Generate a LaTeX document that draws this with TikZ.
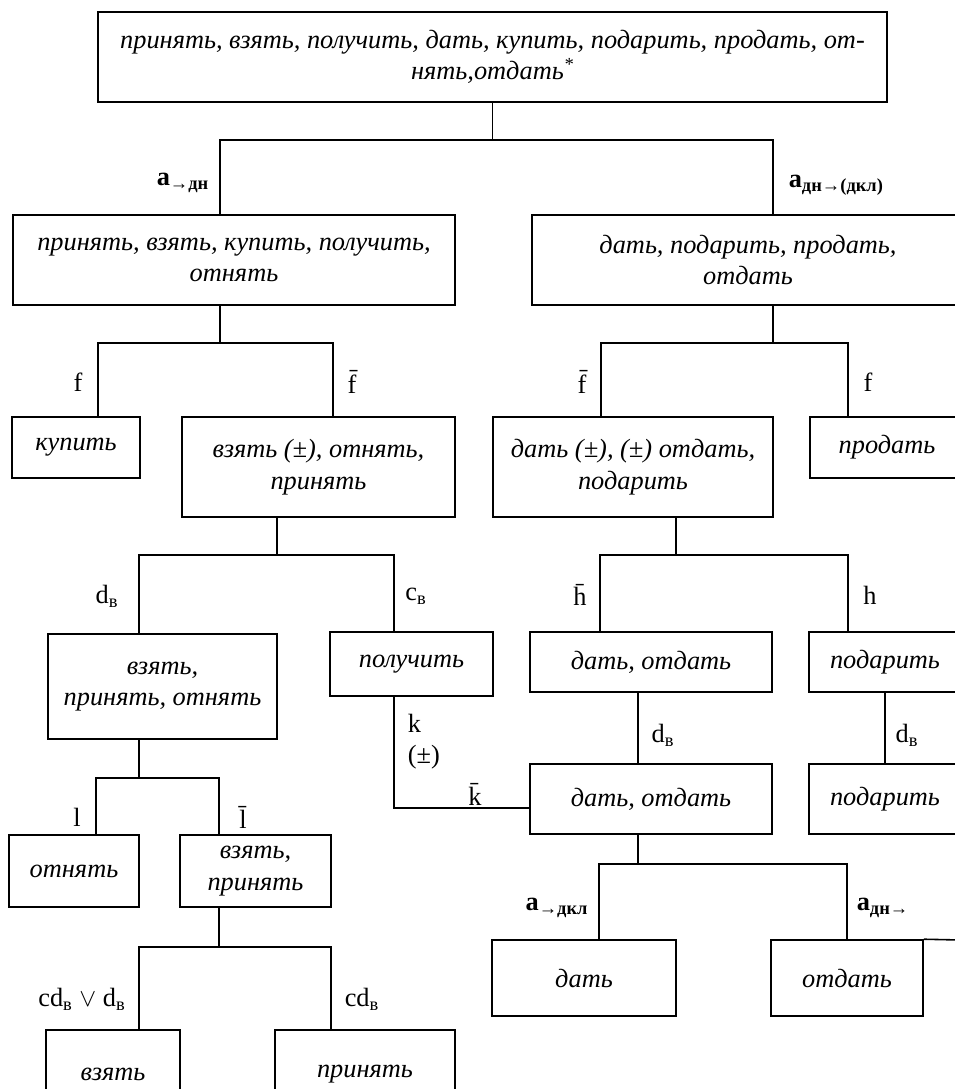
\documentclass[tikz,border=0pt]{standalone}
\usepackage{fontspec}
\setmainfont{Liberation Serif}
\begin{document}
\begin{tikzpicture}[x=0.02cm, y=-0.02cm, line width=0.9pt,
    box/.style={draw, rectangle, align=center, inner sep=0pt, font=\fontsize{15}{18}\selectfont\itshape},
    lbl/.style={inner sep=0pt, font=\fontsize{15}{18}\selectfont},
    bw/.style={minimum width=#1*0.02cm},
    bh/.style={minimum height=#1*0.02cm}]
    \clip (0,0) rectangle (955,1089);

    \node[box, bw=789, bh=90] at (492.5,57) (top) {принять, взять, получить, дать, купить, подарить, продать, от-\\нять,отдать\textsuperscript{*}};
    \node[box, bw=442, bh=90] at (234,260) (l1) {принять, взять, купить, получить,\\отнять};
    \node[box, bw=432, bh=90] at (748,260) (r1) {дать, подарить, продать,\\отдать};
    \node[box, bw=128, bh=61] at (76,447.5) (kup) {купить};
    \node[box, bw=273, bh=100] at (318.5,467) (l2) {взять (±), отнять,\\принять};
    \node[box, bw=280, bh=100] at (633,467) (r2) {дать (±), (±) отдать,\\подарить};
    \node[box, bw=154, bh=61] at (887,447.5) (prod) {продать};
    \node[box, bw=229, bh=105] at (162.5,686.5) (l3) {взять,\\принять, отнять};
    \node[box, bw=163, bh=64] at (411.5,664) (pol) {получить};
    \node[box, bw=242, bh=60] at (651,662) (r3) {дать, отдать};
    \node[box, bw=152, bh=60] at (885,662) (pod) {подарить};
    \node[box, bw=242, bh=70] at (651,799) (r4) {дать, отдать};
    \node[box, bw=152, bh=70] at (885,799) (pod2) {подарить};
    \node[box, bw=130, bh=72] at (74,871) (otn) {отнять};
    \node[box, bw=151, bh=72] at (255.5,871) (l4) {взять,\\принять};
    \node[box, bw=184, bh=76] at (584,978) (dat) {дать};
    \node[box, bw=152, bh=76] at (847,978) (otd) {отдать};
    \node[box, bw=134, bh=88] at (113,1074) (vz) {взять};
    \node[box, bw=180, bh=88] at (365,1074) (prin) {принять};

    \coordinate (j1) at (220,140);
    \coordinate (j2) at (773,140);
    \coordinate (j3) at (98,343);
    \coordinate (j4) at (333,343);
    \coordinate (j5) at (601,343);
    \coordinate (j6) at (848,343);
    \coordinate (s3) at (277,555);
    \coordinate (j7) at (139,555);
    \coordinate (j8) at (394,555);
    \coordinate (s4) at (676,555);
    \coordinate (j9) at (600,555);
    \coordinate (j10) at (848,555);
    \coordinate (j11) at (96,778);
    \coordinate (j12) at (219,778);
    \coordinate (j13) at (394,808);
    \coordinate (s5) at (638,864);
    \coordinate (j15) at (599,864);
    \coordinate (j16) at (847,864);
    \coordinate (j17) at (139,947);
    \coordinate (j18) at (331,947);
    \coordinate (rim) at (960,940);

    \draw (top.south) -- (top.south |- j1);
    \draw (l1.north -| j1) |- (j2) -- (r1.north -| j2);
    \draw (l1.south -| j1) -- (j1 |- j3);
    \draw (kup.north -| j3) |- (j4) -- (l2.north -| j4);
    \draw (r1.south -| j2) -- (j2 |- j5);
    \draw (r2.north -| j5) |- (j6) -- (prod.north -| j6);
    \draw (l2.south -| s3) -- (s3);
    \draw (l3.north -| j7) |- (j8) -- (pol.north -| j8);
    \draw (r2.south -| s4) -- (s4);
    \draw (r3.north -| j9) |- (j10) -- (pod.north -| j10);
    \draw (l3.south -| j7) -- (j7 |- j11);
    \draw (otn.north -| j11) |- (j12) -- (l4.north -| j12);
    \draw (pol.south -| j8) -- (j13) -- (r4.west |- j13);
    \draw (r3.south -| s5) -- (r4.north -| s5);
    \draw (pod.south) -- (pod2.north);
    \draw (r4.south -| s5) -- (s5);
    \draw (dat.north -| j15) |- (j16) -- (otd.north -| j16);
    \draw (l4.south -| j12) -- (j12 |- j17);
    \draw (vz.north -| j17) |- (j18) -- (prin.north -| j18);
    \draw (otd.north east) -- (rim);

    \node[lbl, font=\fontsize{15}{18}\selectfont\bfseries] at (183,183) (ta) {a\textsubscript{→дн}};
    \node[lbl, anchor=west, font=\fontsize{15}{18}\selectfont\bfseries] at (788,185) (tb) {a\textsubscript{дн→(дкл)}};
    \node[lbl] at (78,382) (fa) {f};
    \node[lbl] at (352,382) (fb) {\={f}};
    \node[lbl] at (582,382) (fc) {\={f}};
    \node[lbl] at (868,382) (fd) {f};
    \node[lbl] at (107,596) (da) {d\textsubscript{в}};
    \node[lbl] at (416,596) (ca) {c\textsubscript{в}};
    \node[lbl] at (580,595) (ha) {\={h}};
    \node[lbl] at (870,595) (hb) {h};
    \node[lbl, anchor=north west, align=left] at (407,713) (ka) {k\\(±)};
    \node[lbl] at (475,794) (kb) {\={k}};
    \node[lbl] at (663,735) (db) {d\textsubscript{в}};
    \node[lbl] at (907,735) (dc) {d\textsubscript{в}};
    \node[lbl] at (77,817) (la) {l};
    \node[lbl] at (243,817) (lb) {\={l}};
    \node[lbl] at (82,999) (cda) {cd\textsubscript{в} $\vee$ d\textsubscript{в}};
    \node[lbl] at (362,999) (cdb) {cd\textsubscript{в}};
    \node[lbl, font=\fontsize{15}{18}\selectfont\bfseries] at (557,908) (tc) {a\textsubscript{→дкл}};
    \node[lbl, font=\fontsize{15}{18}\selectfont\bfseries] at (883,908) (td) {a\textsubscript{дн→}};
\end{tikzpicture}
\end{document}
